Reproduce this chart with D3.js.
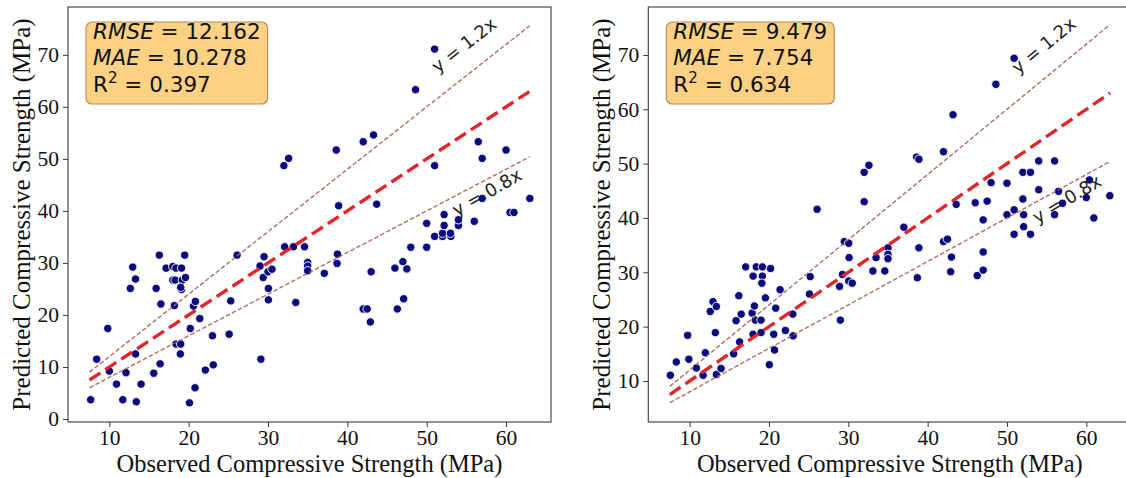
<!DOCTYPE html>
<html><head><meta charset="utf-8">
<script src="https://cdn.jsdelivr.net/npm/d3@7"></script>
<style>body{margin:0;background:#fff} svg{display:block}</style>
</head><body>
<svg id="c" width="1126" height="478"></svg>
<script>
// ---------- data ----------
const xTicks = [10, 20, 30, 40, 50, 60];
const yTicksLeft = [0, 10, 20, 30, 40, 50, 60, 70];
const yTicksRight = [10, 20, 30, 40, 50, 60, 70];
const xDomain = [4.79, 65.67];
const yDomainLeft = [-0.58, 79.2];
const yDomainRight = [2.45, 78.83];
const lineRange = [7.5, 63];
const lineSlopes = [1.2, 0.8, 1.0];
const lineLabels = ["y = 1.2x", "y = 0.8x"];
const lineLabelPos = [[51.4, 66.4], [53.8, 38.9]];
const metricNames = ["RMSE", "MAE", "R"];
const leftMetricValues = ["12.162", "10.278", "0.397"];
const rightMetricValues = ["9.479", "7.754", "0.634"];
const xTitle = "Observed Compressive Strength (MPa)";
const yTitle = "Predicted Compressive Strength (MPa)";

const leftObserved = [7.65,8.4,9.8,10.0,10.9,11.7,12.1,12.65,12.95,13.3,13.3,13.4,14.0,15.6,15.9,16.3,16.4,16.5,17.15,
  18.0,18.4,19.1,18.0,18.3,19.2,19.6,19.1,19.0,18.2,18.4,19.0,18.95,19.5,20.2,20.1,20.6,20.85,20.8,21.4,22.1,23.0,23.1,
  25.1,25.3,26.1,29.0,29.1,29.5,29.4,30.0,30.5,30.05,30.05,32.0,32.6,32.1,33.2,33.5,34.6,35.0,35.0,35.0,37.1,38.9,38.75,38.7,
  38.6,43.7,51.0,57.0,60.0,42.0,42.5,42.9,43.0,46.0,46.3,47.0,47.5,47.1,48.0,50.0,50.0,51.0,52.0,53.05,52.0,53.0,52.2,52.2,
  54.0,54.0,56.0,57.0,60.5,61.0,63.0,51.0,48.6,43.3,42.0,56.5];
const leftPredicted = [3.7,11.5,17.4,9.2,6.7,3.7,8.9,25.1,29.2,26.9,12.5,3.3,6.7,8.8,25.1,31.5,10.6,22.1,29.0,
  29.3,29.0,29.0,26.7,26.7,26.7,27.2,24.9,25.3,21.8,14.4,14.4,12.5,31.5,17.4,3.1,21.7,22.6,6.0,19.3,9.4,16.0,10.4,
  16.3,22.7,31.5,29.4,11.5,31.2,27.2,28.3,28.8,25.1,22.9,48.7,50.1,33.1,33.1,22.4,33.1,30.1,29.4,28.5,28.0,41.0,31.7,29.9,
  51.7,41.3,48.7,50.1,51.7,21.15,21.15,18.65,28.3,29.0,21.15,30.25,28.85,23.1,33.0,33.0,37.6,35.1,35.1,35.1,35.7,35.7,37.2,39.3,
  37.2,38.3,38.0,42.4,39.7,39.7,42.4,71.1,63.3,54.6,53.3,53.3];

const rightObserved = [7.57,8.32,9.75,9.9,10.85,11.7,11.98,12.6,12.95,13.37,13.24,13.37,13.96,15.55,15.85,16.2,16.3,16.5,17.06,
  17.87,18.0,18.16,18.0,18.4,19.17,19.17,18.28,19.0,19.1,19.55,19.0,20.2,20.05,20.7,20.6,20.85,21.4,22.07,23.0,23.04,25.2,25.1,
  26.07,29.0,28.9,29.26,29.5,30.05,30.1,30.05,30.5,32.0,32.0,32.6,33.1,33.5,34.6,35.0,35.0,35.0,37.0,38.7,38.9,38.6,38.9,42.0,
  42.0,42.5,43.0,42.9,43.6,46.0,46.25,47.0,47.0,47.0,47.5,48.0,50.0,50.0,50.9,50.9,52.0,52.96,52.0,52.1,52.1,52.96,54.0,54.0,
  56.0,56.0,56.5,57.0,60.0,60.4,60.95,62.96,50.9,48.6,43.2];
const rightPredicted = [11.05,13.5,18.4,14.0,12.4,11.05,15.2,22.8,24.6,23.7,18.9,11.2,12.3,15.0,21.1,25.7,17.2,22.3,31.0,
  22.5,29.3,23.8,18.6,31.0,31.0,29.3,21.2,21.2,28.0,25.3,18.9,30.7,13.0,15.7,18.6,23.4,26.8,19.3,22.3,18.3,29.2,26.0,
  41.6,21.2,27.4,29.6,35.65,35.35,32.7,28.4,28.0,43.0,48.4,49.7,30.25,32.7,30.25,34.5,33.3,32.5,38.3,29.0,34.5,51.2,50.8,52.2,
  35.65,36.1,32.8,30.1,42.5,42.8,29.4,30.4,33.75,39.65,43.1,46.5,46.4,40.6,41.5,37.0,48.4,48.4,43.5,40.6,38.4,37.0,50.5,45.2,
  50.5,40.6,44.9,42.7,43.75,47.0,40.0,44.1,69.4,64.6,59.0];

// ---------- drawing ----------
const svg = d3.select("#c");
const serif = "'Liberation Serif','Times New Roman',serif";
const sans = "'DejaVu Sans',sans-serif";

function panel(left, right, yDomain, yTicks, obs, pred, metrics) {
  const top = 7, bottom = 422;
  const x = d3.scaleLinear().domain(xDomain).range([left, right]);
  const y = d3.scaleLinear().domain(yDomain).range([bottom, top]);
  const g = svg.append("g");

  // points
  g.append("g").selectAll("circle").data(obs.map((o, i) => [o, pred[i]])).join("circle")
    .attr("cx", d => x(d[0])).attr("cy", d => y(d[1])).attr("r", 4.2)
    .attr("fill", "#0a0a7e").attr("stroke", "#fff").attr("stroke-width", 0.9);

  // reference lines
  lineSlopes.forEach(k => {
    const main = k === 1;
    g.append("line")
      .attr("x1", x(lineRange[0])).attr("y1", y(lineRange[0] * k))
      .attr("x2", x(lineRange[1])).attr("y2", y(lineRange[1] * k))
      .attr("stroke", main ? "#e0262a" : "#aa5d58")
      .attr("stroke-opacity", main ? 1 : 0.9)
      .attr("stroke-width", main ? 3.4 : 1.4)
      .attr("stroke-dasharray", main ? "13,6" : "4.5,2.2");
  });

  // line labels
  [1.2, 0.8].forEach((k, i) => {
    const ang = -Math.atan((y(0) - y(k * 10)) / (x(10) - x(0))) * 180 / Math.PI - (i === 1 ? 2 : 0);
    const px = x(lineLabelPos[i][0]), py = y(lineLabelPos[i][1]);
    g.append("text").attr("transform", `translate(${px},${py}) rotate(${ang})`)
      .attr("font-family", sans).attr("font-size", 18).attr("fill", "#222")
      .text(lineLabels[i]);
  });

  // frame
  g.append("rect").attr("x", left).attr("y", top).attr("width", right - left).attr("height", bottom - top)
    .attr("fill", "none").attr("stroke", "#3a3a3a").attr("stroke-width", 1.1);

  // axes
  const ax = g.append("g").attr("transform", `translate(0,${bottom})`)
    .call(d3.axisBottom(x).tickValues(xTicks).tickSize(5).tickPadding(3).tickFormat(d3.format("d")));
  const ay = g.append("g").attr("transform", `translate(${left},0)`)
    .call(d3.axisLeft(y).tickValues(yTicks).tickSize(5).tickPadding(4).tickFormat(d3.format("d")));
  [ax, ay].forEach(a => {
    a.select(".domain").remove();
    a.selectAll("line").attr("stroke", "#3a3a3a");
    a.selectAll("text").attr("font-family", serif).attr("font-size", 21.5).attr("fill", "#111");
  });

  // titles
  g.append("text").attr("x", (left + right) / 2).attr("y", 472).attr("text-anchor", "middle")
    .attr("font-family", serif).attr("font-size", 24.5).attr("fill", "#111").text(xTitle);
  g.append("text").attr("transform", `translate(${left - 38},${(top + bottom) / 2}) rotate(-90)`)
    .attr("text-anchor", "middle").attr("font-family", serif).attr("font-size", 25).attr("fill", "#111").text(yTitle);

  // metrics box
  const bx = left + 18, by = top + 15, fs = 21.5;
  const box = g.append("rect");
  const tg = g.append("g").attr("font-family", sans).attr("font-size", fs).attr("fill", "#111");
  const baselines = [39, 65, 92];
  const texts = [];
  metricNames.forEach((n, i) => {
    const t = tg.append("text").attr("x", bx + 7).attr("y", baselines[i]);
    if (i < 2) {
      t.append("tspan").attr("font-style", "italic").text(n);
      t.append("tspan").text(" = " + metrics[i]);
    } else {
      t.append("tspan").text(n);
      t.append("tspan").attr("font-size", fs * 0.7).attr("dy", -9).text("2");
      t.append("tspan").attr("dy", 9).text(" = " + metrics[i]);
    }
    texts.push(t);
  });
  const w = d3.max(texts, t => t.node().getComputedTextLength()) + 14;
  box.attr("x", bx).attr("y", by).attr("width", w).attr("height", 82).attr("rx", 6)
    .attr("fill", "#fdd183").attr("stroke", "#b38a55").attr("stroke-width", 1.1);
}

panel(68, 551, yDomainLeft, yTicksLeft, leftObserved, leftPredicted, leftMetricValues);
panel(648.3, 1131.3, yDomainRight, yTicksRight, rightObserved, rightPredicted, rightMetricValues);
</script>
</body></html>
